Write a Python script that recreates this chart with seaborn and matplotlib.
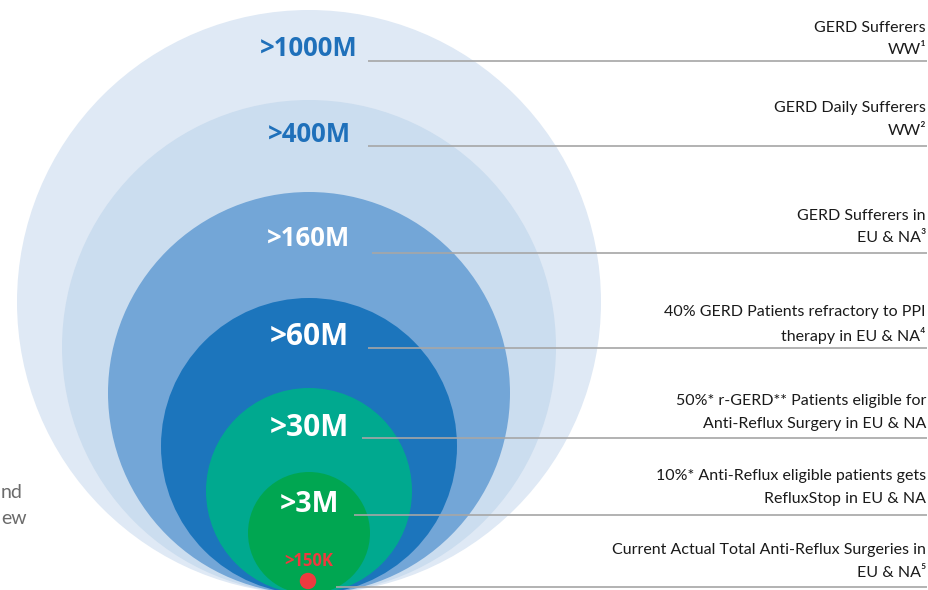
import matplotlib
matplotlib.use("Agg")
import matplotlib.pyplot as plt
import seaborn as sns
from matplotlib.patches import Circle

# Datos del gráfico (de fuera hacia dentro)
valores = [">1000M", ">400M", ">160M", ">60M", ">30M", ">3M"]
descripciones = [
    ("GERD Sufferers", "WW¹"),
    ("GERD Daily Sufferers", "WW²"),
    ("GERD Sufferers in", "EU & NA³"),
    ("40% GERD Patients refractory to PPI", "therapy in EU & NA⁴"),
    ("50%* r-GERD** Patients eligible for", "Anti-Reflux Surgery in EU & NA"),
    ("10%* Anti-Reflux eligible patients gets", "RefluxStop in EU & NA"),
    ("Current Actual Total Anti-Reflux Surgeries in", "EU & NA⁵"),
]
valor_actual = ">150K"
texto_izquierda = ["nd", "ew"]

# Geometría (en píxeles de la imagen)
radios = [292, 247, 201, 148, 103, 61]
base_y = 594
centro_x = 309
colores = ["#dfe9f5", "#cbddef", "#73a6d7", "#1c75bc", "#00a98f", "#00a651"]
color_texto = ["#1f70ba", "#1f70ba", "white", "white", "white", "white"]
tam_texto = [18.5, 18.5, 18.5, 21.5, 21.5, 20.5]
y_texto = [49, 135, 238, 337, 428, 505]
y_lineas = [61, 146, 253, 348, 438, 515, 587]
x_lineas = [368, 368, 372, 368, 362, 354, 336]
y_desc = [(28, 50), (108, 131), (216, 238), (312, 335), (401, 424), (476, 499), (550, 573)]

sns.set_theme(style="white")
plt.rcParams["font.family"] = ["Lato", "DejaVu Sans"]

fig = plt.figure(figsize=(9.29, 5.9), dpi=100)
ax = fig.add_axes([0, 0, 1, 1])
ax.set_xlim(0, 929)
ax.set_ylim(590, 0)
ax.axis("off")

# Círculos anidados, todos tangentes abajo
for r, c in zip(radios, colores):
    ax.add_patch(Circle((centro_x, base_y - r), r, facecolor=c, edgecolor="none"))

for txt, y, col, fs in zip(valores, y_texto, color_texto, tam_texto):
    ax.text(centro_x, y, txt, ha="center", va="center", color=col,
            fontsize=fs, fontweight="bold", family=["Open Sans", "DejaVu Sans"])

# Punto rojo
sns.scatterplot(x=[centro_x - 1], y=[581], color="#ee3a3f", s=140, ax=ax,
                edgecolor="none", zorder=5)
ax.text(centro_x, 561, valor_actual, ha="center", va="center", color="#ee3a3f",
        fontsize=12, fontweight="bold", family=["Open Sans", "DejaVu Sans"])

# Líneas guía
for y, x0 in zip(y_lineas, x_lineas):
    ax.hlines(y, x0, 927, color="#a6a6a6", lw=1.2, zorder=4)

for (l1, l2), (y1, y2) in zip(descripciones, y_desc):
    ax.text(926, y1, l1, ha="right", va="center", fontsize=11.5, color="#1a1a1a")
    ax.text(926, y2, l2, ha="right", va="center", fontsize=11.5, color="#1a1a1a")

for txt, y in zip(texto_izquierda, [493, 518]):
    ax.text(1, y, txt, ha="left", va="center", fontsize=14, color="#6b6b6b")

fig.savefig("out.png", dpi=100)
